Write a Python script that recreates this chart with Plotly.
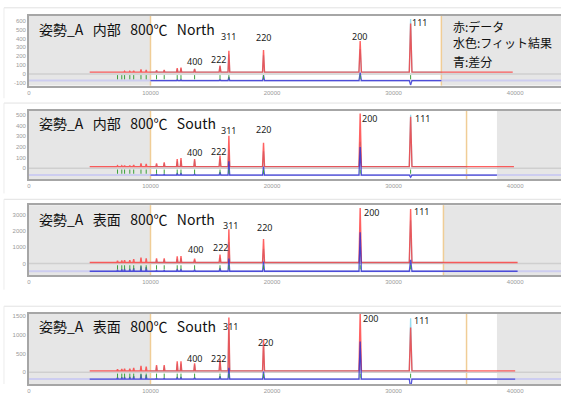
import plotly.graph_objects as go

W, H = 561, 394

# ---------------------------------------------------------------- data
# reflection positions (TOF) and hkl labels
hkl = ["111", "200", "220", "311", "222", "400", "331", "420", "422", "511"]
peak_tof = [31400, 27250, 19300, 16450, 15720, 13630, 12510, 12200, 11130, 10500]
# reflections below the fitting window
minor_tof = [9650, 9220, 8620, 8300, 7870, 7640, 7290]

titles = [
    "姿勢_A   内部   800℃   North",
    "姿勢_A   内部   800℃   South",
    "姿勢_A   表面   800℃   North",
    "姿勢_A   表面   800℃   South",
]

# observed intensity above background, per reflection (same order as hkl)
obs_1 = [550, 350, 250, 240, 75, 35, 50, 45, 25, 20]
obs_2 = [470, 500, 225, 290, 105, 70, 80, 70, 40, 30]
obs_3 = [3300, 3350, 1440, 2040, 480, 240, 400, 380, 250, 250]
obs_4 = [1150, 1540, 830, 1420, 310, 200, 250, 250, 150, 150]

# fitted intensity per reflection
fit_1 = [600, 260, 190, 200, 65, 35, 40, 35, 20, 15]
fit_2 = [490, 235, 145, 160, 75, 60, 60, 50, 30, 20]
fit_3 = [2600, 950, 840, 1260, 280, 140, 250, 230, 170, 170]
fit_4 = [1400, 540, 630, 1120, 230, 160, 190, 190, 120, 120]

# small bumps below the fitting window
minor_1 = [25, 30, 15, 10, 10, 8, 8]
minor_2 = [25, 30, 15, 10, 10, 8, 8]
minor_3 = [260, 300, 200, 150, 150, 120, 100]
minor_4 = [110, 130, 80, 60, 60, 50, 40]

background = [20, 15, 60, 40]          # flat background level
diff_offset = [-75, -65, -480, -180]   # offset of the difference curve
data_span = [(5000, 39800), (5000, 39900), (5000, 40200), (5000, 40000)]
diff_span = [(10000, 33930), (10000, 38500), (5000, 40200), (5000, 40000)]
fit_window = [(10000, 33930), (10000, 36000), (10000, 34100), (10000, 36000)]
shade_right = [33930, 38500, 34100, 38500]

y_ranges = [(-132, 659), (-101, 541), (-719, 3593), (-310, 1550)]
y_ticks = [list(range(-100, 601, 100)), list(range(0, 501, 100)),
           list(range(0, 3001, 1000)), list(range(0, 1501, 500))]
x_ticks = [0, 10000, 20000, 30000, 40000]

obs = [obs_1, obs_2, obs_3, obs_4]
fit = [fit_1, fit_2, fit_3, fit_4]
minor = [minor_1, minor_2, minor_3, minor_4]

# ---------------------------------------------------------------- style
half_width = [110, 100, 80, 70, 70, 60, 55, 55, 50, 50]
minor_half_width = 50
RED = "rgb(255,45,45)"
CYAN = "rgb(150,220,240)"
BLUE = "rgb(45,45,210)"
GREEN = "rgb(60,160,60)"
SHADE = "#e6e6e6"
YELLOW = "rgb(240,205,150)"
FRAME = "#a6a6a6"
JP = "Noto Sans CJK JP"

# plot-area pixel boxes (top, bottom) for the four panels
panel_px = [(15, 87), (113, 183), (210, 282), (322, 394)]
card_px = [(7, 100), (105, 198), (204, 297), (314, 394)]
plot_left_px = 27
x_max = 43770

# peak label pixel anchors (cx, cy) per panel in hkl order (first six)
label_px = [
    [(419, 22), (359, 37), (262, 38), (227, 37), (217, 60), (193, 62)],
    [(422, 121), (369, 121), (262, 132), (227, 133), (217, 155), (193, 156)],
    [(421, 217), (371, 218), (263, 233), (229, 231), (219, 254), (194, 256)],
    [(421, 329), (370, 327), (264, 351), (229, 335), (217, 368), (193, 368)],
]
title_cy = [29, 126, 224, 334]


def px_x(px):
    return px / W


def px_y(py):
    return 1 - py / H


def profile(span, base, positions, heights, widths):
    """Polyline: flat background with a sharp peak at each position."""
    start, end = span
    pts = sorted(zip(positions, heights, widths))
    xs, ys = [start], [base]
    for p, h, w in pts:
        if start < p < end:
            xs += [p - w, p, p + w]
            ys += [base, base + h, base]
    xs.append(end)
    ys.append(base)
    return xs, ys


fig = go.Figure()
shapes = []
annotations = []

for i in range(4):
    n = i + 1
    xa = "x" if n == 1 else f"x{n}"
    ya = "y" if n == 1 else f"y{n}"
    top, bot = panel_px[i]

    fig.update_layout(**{
        f"xaxis{'' if n == 1 else n}": dict(
            domain=[px_x(plot_left_px), 1], range=[0, x_max], anchor=ya,
            tickvals=x_ticks, ticktext=[str(v) for v in x_ticks],
            tickfont=dict(size=6, color="#9a9a9a", family="Liberation Sans"),
            showgrid=False, zeroline=False, showline=True, linecolor=FRAME,
            linewidth=1.5, mirror=True, ticks="", fixedrange=True),
        f"yaxis{'' if n == 1 else n}": dict(
            domain=[px_y(bot), px_y(top)], range=list(y_ranges[i]), anchor=xa,
            tickvals=y_ticks[i], ticktext=[str(v) for v in y_ticks[i]],
            tickfont=dict(size=6, color="#9a9a9a", family="Liberation Sans"),
            showgrid=False, zeroline=False, showline=True, linecolor=FRAME,
            linewidth=1.5, mirror=False, ticks="", fixedrange=True),
    })

    lo, hi = fit_window[i]
    # shaded regions outside the fitting window
    shapes.append(dict(type="rect", xref=xa, yref=f"{ya} domain", x0=0, x1=lo,
                       y0=0, y1=1, fillcolor=SHADE, line_width=0, layer="below"))
    shapes.append(dict(type="rect", xref=xa, yref=f"{ya} domain",
                       x0=shade_right[i], x1=x_max, y0=0, y1=1,
                       fillcolor=SHADE, line_width=0, layer="below"))
    # fitting window limits
    for xv in (lo, hi):
        shapes.append(dict(type="line", xref=xa, yref=f"{ya} domain", x0=xv,
                           x1=xv, y0=0, y1=1, line=dict(color=YELLOW, width=1.5),
                           layer="below"))
    # zero line and difference baseline
    shapes.append(dict(type="line", xref=xa, yref=ya, x0=0, x1=x_max, y0=0,
                       y1=0, line=dict(color="#cfcfcf", width=1.5), layer="below"))
    shapes.append(dict(type="line", xref=xa, yref=ya, x0=0, x1=x_max,
                       y0=diff_offset[i], y1=diff_offset[i],
                       line=dict(color="rgb(205,205,240)", width=2), layer="below"))

    all_pos = peak_tof + minor_tof
    all_w = half_width + [minor_half_width] * len(minor_tof)
    base = background[i]

    # fitted curve (inside fitting window)
    fx, fy = profile(fit_window[i], base, peak_tof, fit[i], half_width)
    fig.add_trace(go.Scatter(x=fx, y=fy, xaxis=xa, yaxis=ya, mode="lines",
                             line=dict(color=CYAN, width=1.3), hoverinfo="skip"))

    # observed data
    ox, oy = profile(data_span[i], base, all_pos, obs[i] + minor[i], all_w)
    fig.add_trace(go.Scatter(x=ox, y=oy, xaxis=xa, yaxis=ya, mode="lines",
                             line=dict(color=RED, width=1.4), opacity=0.75,
                             hoverinfo="skip"))

    # difference (observed - fit), offset below zero
    diff_main = [o - f for o, f in zip(obs[i], fit[i])]
    d_lo = diff_span[i][0]
    if d_lo < fit_window[i][0]:
        d_pos, d_h = all_pos, diff_main + minor[i]
    else:
        d_pos, d_h = peak_tof, diff_main
    d_w = [w for w in all_w[:len(d_pos)]]
    dx, dy = profile(diff_span[i], diff_offset[i], d_pos, d_h, d_w)
    fig.add_trace(go.Scatter(x=dx, y=dy, xaxis=xa, yaxis=ya, mode="lines",
                             line=dict(color=BLUE, width=1.3), opacity=0.8,
                             hoverinfo="skip"))

    # reflection markers
    fig.add_trace(go.Scatter(
        x=all_pos, y=[diff_offset[i] / 2] * len(all_pos), xaxis=xa, yaxis=ya,
        mode="markers", hoverinfo="skip",
        marker=dict(symbol="line-ns", size=3,
                    line=dict(color=GREEN, width=1))))

    # card outline
    ctop, cbot = card_px[i]
    shapes.append(dict(type="line", xref="paper", yref="paper", x0=px_x(2),
                       x1=1, y0=px_y(ctop), y1=px_y(ctop),
                       line=dict(color="#e2e2e2", width=1)))
    shapes.append(dict(type="line", xref="paper", yref="paper", x0=px_x(2),
                       x1=px_x(2), y0=px_y(ctop), y1=px_y(cbot),
                       line=dict(color="#ececec", width=1)))

    # panel title
    annotations.append(dict(text=titles[i], xref="paper", yref="paper",
                            x=px_x(35), y=px_y(title_cy[i]), xanchor="left",
                            yanchor="middle", showarrow=False,
                            font=dict(family=JP, size=14, color="#111")))
    # reflection labels
    for (cx, cy), lab in zip(label_px[i], hkl[:6]):
        annotations.append(dict(text=lab, xref="paper", yref="paper",
                                x=px_x(cx), y=px_y(cy), xanchor="center",
                                yanchor="middle", showarrow=False,
                                font=dict(family="Noto Sans", size=9,
                                          color="#222")))

# colour key
key_lines = ["赤:データ", "水色:フィット結果", "青:差分"]
key_cy = [26, 43, 62]
for txt, cy in zip(key_lines, key_cy):
    annotations.append(dict(text=txt, xref="paper", yref="paper", x=px_x(451),
                            y=px_y(cy), xanchor="left", yanchor="middle",
                            showarrow=False,
                            font=dict(family=JP, size=12, color="#111")))

fig.update_layout(
    width=W, height=H, margin=dict(l=0, r=0, t=0, b=0),
    paper_bgcolor="white", plot_bgcolor="white", showlegend=False,
    shapes=shapes, annotations=annotations,
)

fig.write_html("out.html", config={"displayModeBar": False})
